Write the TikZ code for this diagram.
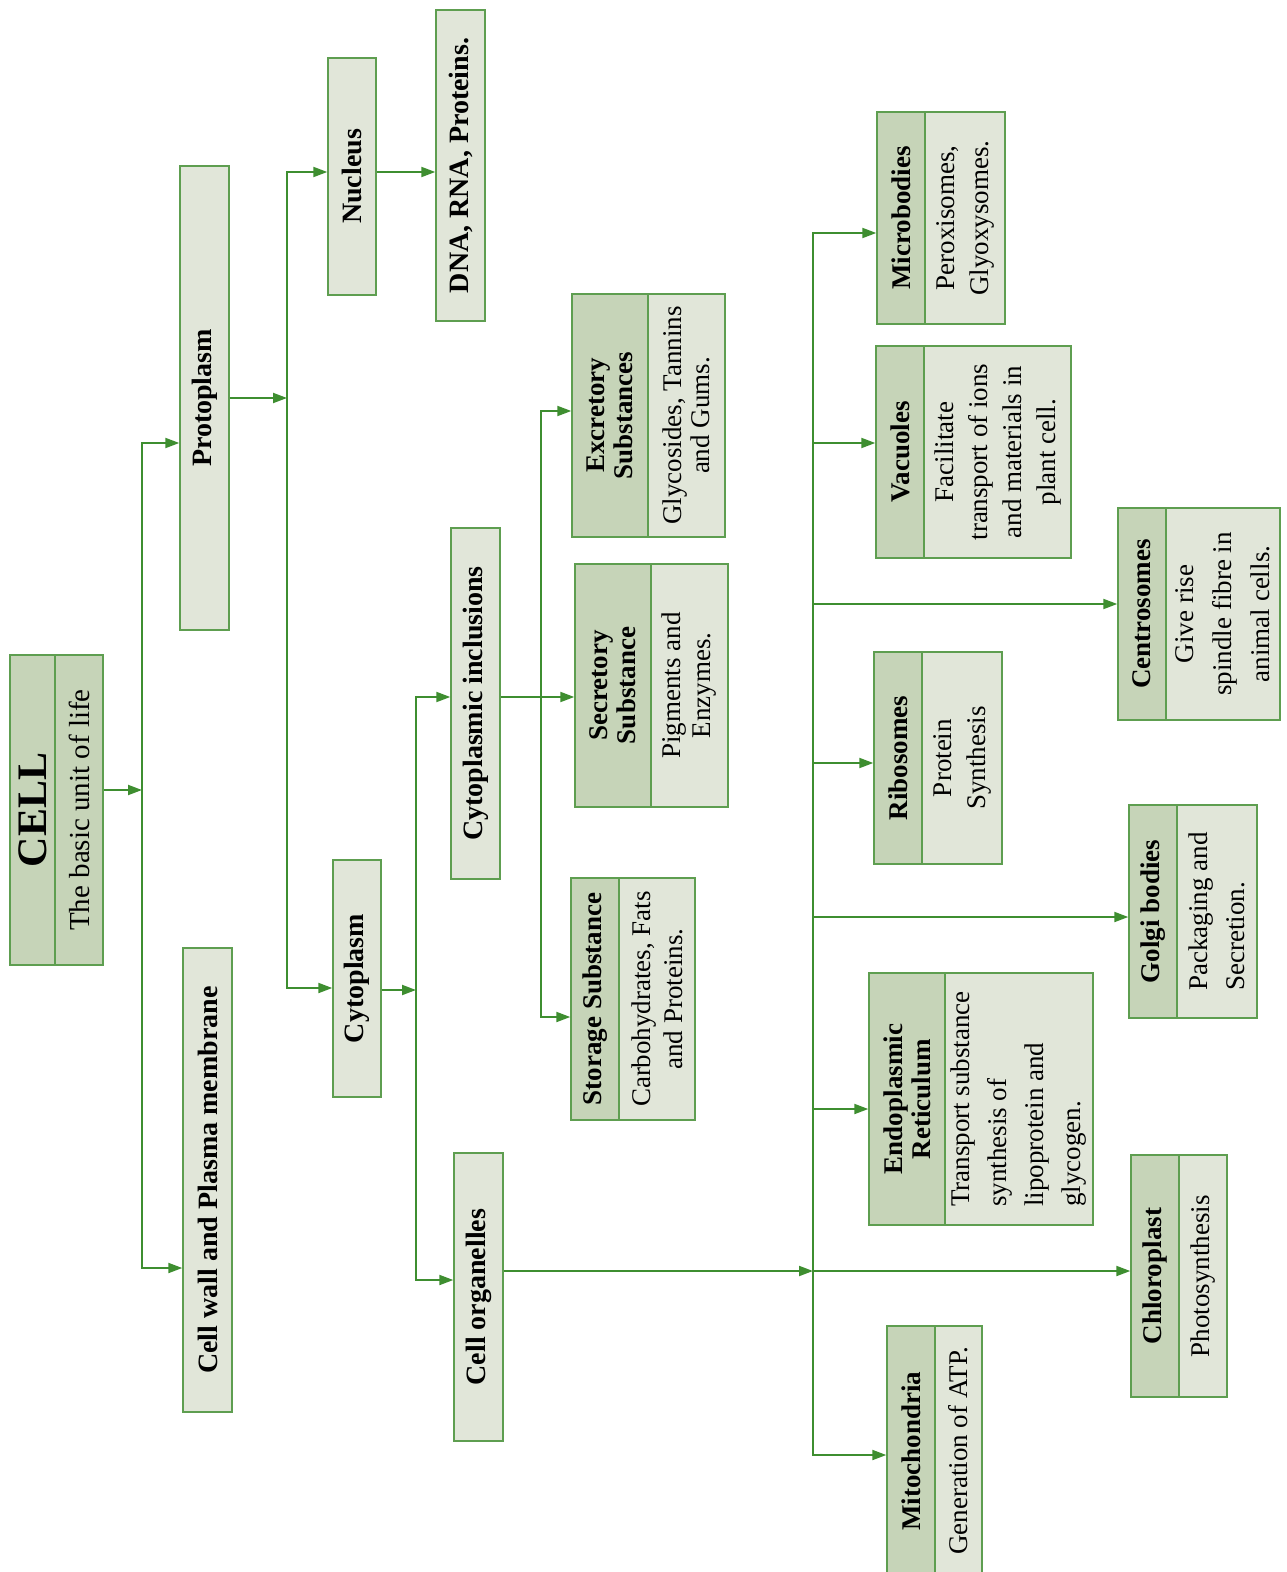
\documentclass[tikz,border=0pt]{standalone}
\usepackage{fontspec}
\setmainfont{Liberation Serif}
\usetikzlibrary{arrows.meta}
\definecolor{hdgreen}{HTML}{C6D4B8}
\definecolor{bdgreen}{HTML}{E1E6D9}
\definecolor{edgegreen}{HTML}{5E9E50}
\definecolor{linegreen}{HTML}{3E8E30}

\begin{document}
\begin{tikzpicture}[x=0.5pt,y=-0.5pt,
    sz/.style 2 args={minimum width=#2*0.5pt, minimum height=#1*0.5pt},
    base/.style={draw=edgegreen, line width=0.7pt, rotate=90, inner sep=0pt, align=center},
    box/.style={base, fill=bdgreen, font=\fontsize{14}{15}\selectfont\bfseries},
    hd/.style={base, fill=hdgreen, font=\fontsize{13.5}{14}\selectfont\bfseries},
    bd/.style={base, fill=bdgreen, font=\fontsize{13.5}{17}\selectfont},
    lead/.style={font=\fontsize{13.5}{#1}\selectfont},
    arr/.style={draw=linegreen, line width=1pt, -{Triangle[length=7pt,width=5pt]}},
    trunk/.style={draw=linegreen, line width=1pt, line cap=rect}]
    \useasboundingbox (0,0) rectangle (1286,1572);

    % 细胞
    \node[hd, sz={45}{310}, font=\fontsize{21}{22}\selectfont\bfseries] (cellh) at (32.5,810) {CELL};
    \node[hd, sz={48}{310}, font=\fontsize{14.5}{16}\selectfont] (cellb) at (79,810) {The basic unit of life};

    % 第一层
    \node[box, sz={49}{464}] (proto) at (204.5,398) {Protoplasm};
    \node[box, sz={49}{464}] (wall) at (207.5,1180) {Cell wall and Plasma membrane};

    % 第二层
    \node[box, sz={48}{237}] (nucleus) at (352,176.5) {Nucleus};
    \node[box, sz={49}{311}] (dna) at (460.5,165.5) {DNA, RNA, Proteins.};
    \node[box, sz={48}{237}] (cyto) at (357,978.5) {Cytoplasm};
    \node[box, sz={49}{351}] (incl) at (475.5,703.5) {Cytoplasmic inclusions};
    \node[box, sz={49}{288}] (organ) at (478.5,1297) {Cell organelles};

    % 内含物
    \node[hd, sz={76}{243}] (excrh) at (610,415.5) {Excretory\\Substances};
    \node[bd, sz={77}{243}, lead=14] (excrb) at (686.5,415.5) {Glycosides, Tannins\\and Gums.};
    \node[hd, sz={76}{243}] (secrh) at (613,685.5) {Secretory\\Substance};
    \node[bd, sz={77}{243}, lead=15] (secrb) at (689.5,685.5) {Pigments and\\Enzymes.};
    \node[hd, sz={48}{242}] (storh) at (595,999) {Storage Substance};
    \node[bd, sz={76}{242}, lead=16] (storb) at (657,999) {Carbohydrates, Fats\\and Proteins.};

    % 细胞器
    \node[hd, sz={48}{212}] (microh) at (901,218) {Microbodies};
    \node[bd, sz={80}{212}] (microb) at (965,218) {Peroxisomes,\\Glyoxysomes.};
    \node[hd, sz={48}{212}] (vacuh) at (900,452) {Vacuoles};
    \node[bd, sz={147}{212}] (vacub) at (997.5,452) {Facilitate\\transport of ions\\and materials in\\plant cell.};
    \node[hd, sz={48}{212}] (centroh) at (1142,614) {Centrosomes};
    \node[bd, sz={114}{212}, lead=19] (centrob) at (1223,614) {Give rise\\spindle fibre in\\animal cells.};
    \node[hd, sz={48}{212}] (riboh) at (898,758) {Ribosomes};
    \node[bd, sz={80}{212}] (ribob) at (962,758) {Protein\\Synthesis};
    \node[hd, sz={48}{213}] (golgih) at (1153,911.5) {Golgi bodies};
    \node[bd, sz={80}{213}, lead=18.5, align=left] (golgib) at (1217,911.5) {Packaging and\\Secretion.};
    \node[hd, sz={76}{252}] (erh) at (907,1099) {Endoplasmic\\Reticulum};
    \node[bd, sz={148}{252}, lead=18.5, align=left] (erb) at (1019,1099) {Transport substance\\synthesis of\\lipoprotein and\\glycogen.};
    \node[hd, sz={48}{242}] (chloroh) at (1155,1276) {Chloroplast};
    \node[bd, sz={48}{242}] (chlorob) at (1203,1276) {Photosynthesis};
    \node[hd, sz={48}{250}] (mitoh) at (911,1451) {Mitochondria};
    \node[bd, sz={47}{250}] (mitob) at (958.5,1451) {Generation of ATP.};

    % 连接点
    \coordinate (j1) at (142,790);
    \coordinate (t1a) at (142,443);
    \coordinate (t1b) at (142,1268);
    \coordinate (j2) at (287,398);
    \coordinate (t2a) at (287,172);
    \coordinate (t2b) at (287,988);
    \coordinate (j3) at (416,990);
    \coordinate (t3a) at (416,697);
    \coordinate (t3b) at (416,1280);
    \coordinate (t4a) at (541,411);
    \coordinate (t4b) at (541,1017);
    \coordinate (j5) at (813,1271);
    \coordinate (t5a) at (813,233);
    \coordinate (t5b) at (813,1455);
    \coordinate (b1) at (813,443);
    \coordinate (b2) at (813,604);
    \coordinate (b3) at (813,763);
    \coordinate (b4) at (813,917);
    \coordinate (b5) at (813,1109);

    % 细胞 -> 第一层
    \draw[arr] (cellb.south |- j1) -- (j1);
    \draw[trunk] (t1a) -- (t1b);
    \draw[arr] (t1a) -- (t1a -| proto.north);
    \draw[arr] (t1b) -- (t1b -| wall.north);

    % 原生质 -> 第二层
    \draw[arr] (proto.south |- j2) -- (j2);
    \draw[trunk] (t2a) -- (t2b);
    \draw[arr] (t2a) -- (t2a -| nucleus.north);
    \draw[arr] (t2b) -- (t2b -| cyto.north);
    \draw[arr] (nucleus.south |- t2a) -- (dna.north |- t2a);

    % 细胞质
    \draw[arr] (cyto.south |- j3) -- (j3);
    \draw[trunk] (t3a) -- (t3b);
    \draw[arr] (t3a) -- (t3a -| incl.north);
    \draw[arr] (t3b) -- (t3b -| organ.north);

    % 内含物
    \draw[arr] (incl.south |- t3a) -- (secrh.north |- t3a);
    \draw[trunk] (t4a) -- (t4b);
    \draw[arr] (t4a) -- (t4a -| excrh.north);
    \draw[arr] (t4b) -- (t4b -| storh.north);

    % 细胞器
    \draw[arr] (organ.south |- j5) -- (j5);
    \draw[trunk] (t5a) -- (t5b);
    \draw[arr] (t5a) -- (t5a -| microh.north);
    \draw[arr] (b1) -- (b1 -| vacuh.north);
    \draw[arr] (b2) -- (b2 -| centroh.north);
    \draw[arr] (b3) -- (b3 -| riboh.north);
    \draw[arr] (b4) -- (b4 -| golgih.north);
    \draw[arr] (b5) -- (b5 -| erh.north);
    \draw[arr] (j5) -- (j5 -| chloroh.north);
    \draw[arr] (t5b) -- (t5b -| mitoh.north);
\end{tikzpicture}
\end{document}
